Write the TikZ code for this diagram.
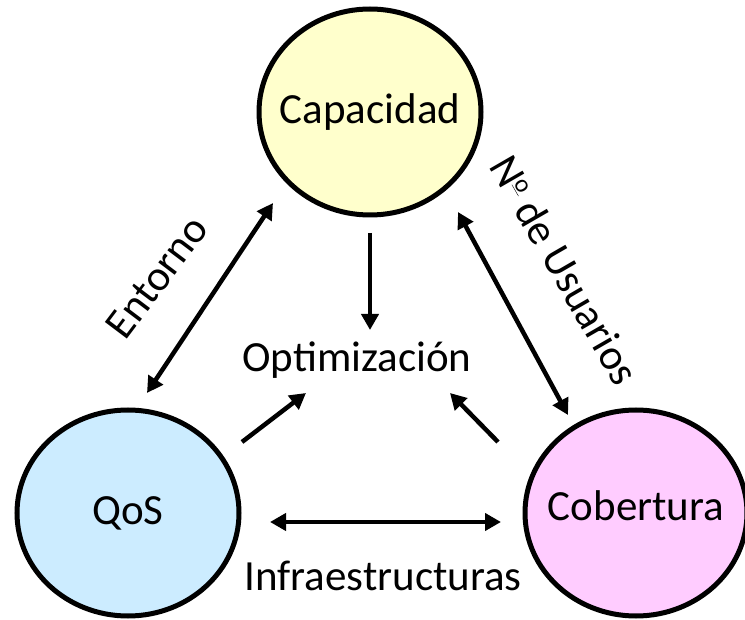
\documentclass[tikz,border=0pt]{standalone}
\usepackage{fontspec}
\setmainfont{Carlito}
\usetikzlibrary{arrows.meta,shapes.geometric}
\definecolor{capfill}{HTML}{FFFFCC}
\definecolor{qosfill}{HTML}{CCECFF}
\definecolor{cobfill}{HTML}{FFCCFF}
\newcommand{\ordo}{\raisebox{13pt}{\fontsize{25}{25}\selectfont\underline{o}}}
\tikzset{
  bubble/.style={ellipse,draw=black,line width=5pt,minimum width=222pt,minimum height=206pt,inner sep=0pt},
  link/.style={line width=4.5pt,-{Triangle[length=16pt,width=17pt]}},
  twoway/.style={line width=4.5pt,{Triangle[length=16pt,width=17pt]}-{Triangle[length=16pt,width=17pt]}},
  lbl/.style={font=\fontsize{43}{50}\selectfont,inner sep=0pt}
}
\begin{document}
\begin{tikzpicture}[x=1pt,y=-1pt]
	% frame of the page
	\useasboundingbox (0,0) rectangle (745,620);
	% the three circles
	\node[bubble,fill=capfill] (cap) at (370,112) {};
	\node[bubble,fill=qosfill] (qos) at (128,513) {};
	\node[bubble,fill=cobfill] (cob) at (636,513) {};
	% names inside the circles
	\node[lbl] (captxt) at (cap) {Capacidad};
	\node[lbl] (qostxt) at (qos) {QoS};
	\node[lbl] (cobtxt) at ([yshift=7pt]cob) {Cobertura};
	% centre label
	\node[lbl] (opt) at (357,360) {Optimización};
	% ends of the arrows
	\coordinate (capdown) at (370,233);
	\coordinate (opttop) at (370,330);
	\coordinate (qosout) at (242,442);
	\coordinate (optleft) at (306,393);
	\coordinate (cobout) at (498,442);
	\coordinate (optright) at (450,393);
	\coordinate (entlow) at (147,393);
	\coordinate (enthigh) at (273,203);
	\coordinate (usrhigh) at (458,212);
	\coordinate (usrlow) at (568,415);
	\coordinate (infleft) at (270,522);
	\coordinate (infright) at (501,522);
	% arrows into the centre
	\draw[link] (capdown) -- (opttop);
	\draw[link] (qosout) -- (optleft);
	\draw[link] (cobout) -- (optright);
	% arrows between the circles
	\draw[twoway] (entlow) -- (enthigh);
	\draw[twoway] (usrhigh) -- (usrlow);
	\draw[twoway] (infleft) -- (infright);
	% labels of the arrows
	\node[lbl,rotate=53] (entorno) at (157,277) {Entorno};
	\node[lbl,rotate=-60] (usuarios) at (565,270) {N\ordo{} de Usuarios};
	\node[lbl] (infra) at (383,576) {Infraestructuras};
\end{tikzpicture}
\end{document}
